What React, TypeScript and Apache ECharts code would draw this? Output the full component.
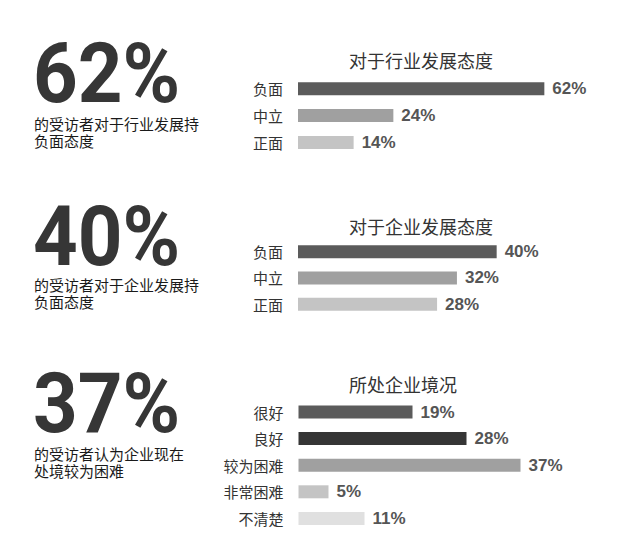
import React, { useEffect, useRef } from "react";
import * as echarts from "echarts";

const industryTitle = "对于行业发展态度";
const industryCats = ["负面", "中立", "正面"];
const industryValues = [62, 24, 14];

const enterpriseTitle = "对于企业发展态度";
const enterpriseCats = ["负面", "中立", "正面"];
const enterpriseValues = [40, 32, 28];

const situationTitle = "所处企业境况";
const situationCats = ["很好", "良好", "较为困难", "非常困难", "不清楚"];
const situationValues = [19, 28, 37, 5, 11];

const headlines = ["62%", "40%", "37%"];
const captions = [
  ["的受访者对于行业发展持", "负面态度"],
  ["的受访者对于企业发展持", "负面态度"],
  ["的受访者认为企业现在", "处境较为困难"],
];

const attitudeColors = ["#5b5b5b", "#a0a0a0", "#c4c4c4"];
const situationColors = ["#5b5b5b", "#353535", "#a0a0a0", "#c4c4c4", "#e0e0e0"];

const CJK = '"Noto Sans CJK SC", sans-serif';

export default function App() {
  const ref = useRef<HTMLDivElement>(null);
  useEffect(() => {
    const chart = echarts.init(ref.current!, null, { renderer: "svg" });

    const grids = [
      { left: 298, top: 75.4, width: 298, height: 80.4 },
      { left: 298, top: 238.5, width: 298, height: 78.9 },
      { left: 298.5, top: 398.7, width: 300, height: 133 },
    ];
    const maxes = [75, 60, 50];
    const catsList = [industryCats, enterpriseCats, situationCats];
    const valsList = [industryValues, enterpriseValues, situationValues];
    const colorsList = [attitudeColors, attitudeColors, situationColors];

    const xAxis = maxes.map((m, i) => ({
      type: "value",
      gridIndex: i,
      min: 0,
      max: m,
      show: false,
    }));
    const yAxis = catsList.map((c, i) => ({
      type: "category",
      gridIndex: i,
      data: c,
      inverse: true,
      axisLine: { show: false },
      axisTick: { show: false },
      axisLabel: { color: "#333", fontSize: 15, fontFamily: CJK, margin: 15 },
    }));
    const series = valsList.map((vals, i) => ({
      type: "bar",
      xAxisIndex: i,
      yAxisIndex: i,
      barWidth: 13,
      data: vals.map((v, j) => ({ value: v, itemStyle: { color: colorsList[i][j] } })),
      label: {
        show: true,
        position: "right",
        distance: 8,
        formatter: "{c}%",
        color: "#555",
        fontSize: 17,
        fontWeight: "bold",
        fontFamily: '"Liberation Sans", Arial, sans-serif',
      },
    }));

    const titleDefs = [
      { text: industryTitle, x: 421, y: 59.5 },
      { text: enterpriseTitle, x: 421, y: 226 },
      { text: situationTitle, x: 403, y: 383.5 },
    ];
    const bigY = [73.5, 236.5, 403.5];
    const capY = [131.5, 293.2, 462];

    const graphic: any[] = [];
    titleDefs.forEach((t) => {
      graphic.push({
        type: "text",
        x: t.x,
        y: t.y,
        style: {
          text: t.text,
          fill: "#333",
          fontSize: 18,
          fontFamily: CJK,
          align: "center",
          verticalAlign: "middle",
        },
      });
    });
    headlines.forEach((h, i) => {
      graphic.push({
        type: "text",
        x: 33,
        y: bigY[i],
        scaleX: 0.94,
        style: {
          text: h,
          fill: "#363636",
          fontSize: 83,
          fontWeight: "bold",
          fontFamily: "Roboto, sans-serif",
          align: "left",
          verticalAlign: "middle",
        },
      });
      graphic.push({
        type: "text",
        x: 34,
        y: capY[i],
        style: {
          text: captions[i].join("\n"),
          fill: "#1a1a1a",
          fontSize: 15,
          lineHeight: 17,
          fontFamily: CJK,
          align: "left",
          verticalAlign: "middle",
        },
      });
    });

    chart.setOption({
      animation: false,
      backgroundColor: "#fff",
      grid: grids,
      xAxis,
      yAxis,
      series,
      graphic,
    });
    return () => chart.dispose();
  }, []);
  return (
    <div
      ref={ref}
      style={{ position: "absolute", left: 0, top: 0, width: 633, height: 545 }}
    />
  );
}
